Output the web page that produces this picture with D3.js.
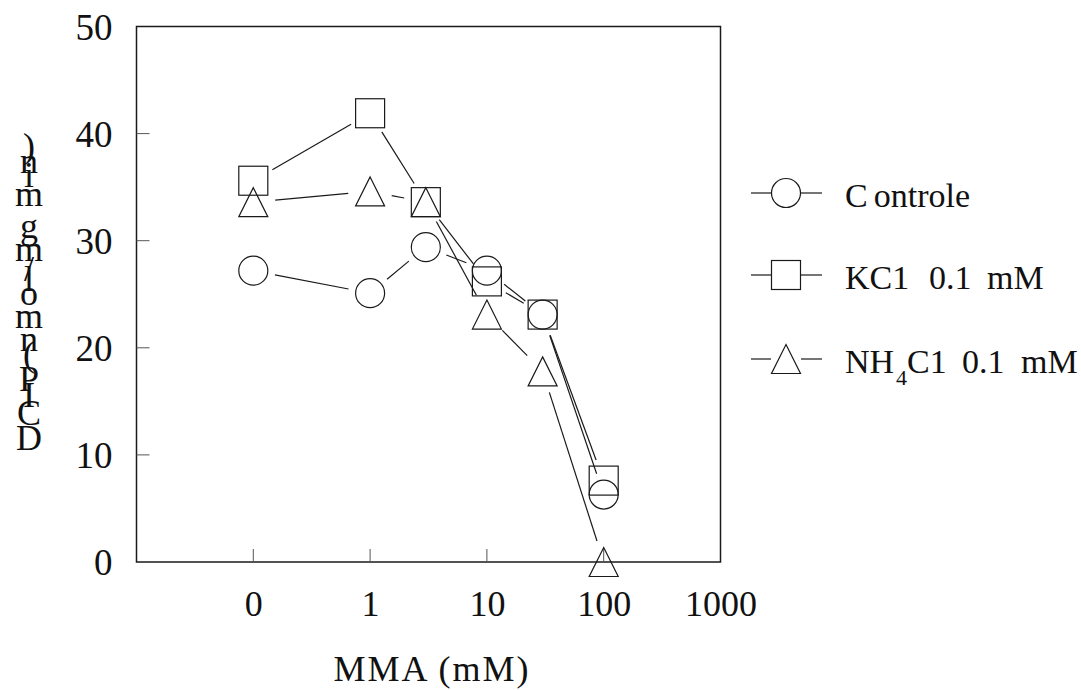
<!DOCTYPE html>
<html>
<head>
<meta charset="utf-8">
<script src="https://d3js.org/d3.v7.min.js"></script>
<style>
  body { margin: 0; background: #fff; }
  text { font-family: "Liberation Serif", "Times New Roman", serif; fill: #111; }
</style>
</head>
<body>
<div id="chart"></div>
<script>
// MMA concentration (mM); the "0" dose sits at the 0.1 position of the log axis
var mma = [0, 1, 3, 10, 30, 100];
var controle = [27.2, 25.1, 29.4, 27.2, 23.1, 6.3];
var kcl = [35.6, 41.9, 33.6, 26.2, 23.1, 7.6];
var nh4cl = [33.6, 34.6, 33.6, 23.1, 17.8, 0.0];
var xTickValues = [0.1, 1, 10, 100, 1000];
var xTickLabels = ["0", "1", "10", "100", "1000"];
var yTickValues = [0, 10, 20, 30, 40, 50];
var yLabel = "DCIP (nmol/mg min)";

var W = 1081, H = 690;
var svg = d3.select("#chart").append("svg").attr("width", W).attr("height", H);

var x = d3.scaleLog().domain([0.01, 1000]).range([136.5, 720.5]);
var y = d3.scaleLinear().domain([0, 50]).range([562, 26.5]);
var xv = function(v) { return x(v === 0 ? 0.1 : v); };

var ink = "#1a1a1a";

// frame
svg.append("rect")
    .attr("x", x.range()[0]).attr("y", y(50))
    .attr("width", x.range()[1] - x.range()[0]).attr("height", y(0) - y(50))
    .attr("fill", "none").attr("stroke", ink).attr("stroke-width", 1.5);

// y axis
var yAxis = d3.axisLeft(y).tickValues(yTickValues).tickSize(0).tickPadding(24);
var gy = svg.append("g").attr("transform", "translate(" + x.range()[0] + ",0)").call(yAxis);
gy.select(".domain").remove();
gy.selectAll("text").style("font-size", "37px").attr("dy", "0.34em");
svg.selectAll(".ytick").data(yTickValues.slice(1, -1)).enter().append("line")
    .attr("x1", x.range()[0]).attr("x2", x.range()[0] + 13)
    .attr("y1", function(d) { return y(d); }).attr("y2", function(d) { return y(d); })
    .attr("stroke", "#555").attr("stroke-width", 1);

// x axis
var xAxis = d3.axisBottom(x).tickValues(xTickValues)
    .tickFormat(function(d, i) { return xTickLabels[i]; })
    .tickSize(0).tickPadding(28);
var gx = svg.append("g").attr("transform", "translate(0," + y(0) + ")").call(xAxis);
gx.select(".domain").remove();
gx.selectAll("text").style("font-size", "36px");
svg.selectAll(".xtick").data(xTickValues.slice(0, -1)).enter().append("line")
    .attr("x1", function(d) { return x(d); }).attr("x2", function(d) { return x(d); })
    .attr("y1", y(0)).attr("y2", y(0) - 13)
    .attr("stroke", "#555").attr("stroke-width", 1);

// axis titles
svg.append("text").attr("x", 432).attr("y", 681)
    .attr("text-anchor", "middle").style("font-size", "36px").style("letter-spacing", "2px")
    .text("MMA (mM)");

// y title: upright glyphs stacked bottom to top with their advance widths
var yl = svg.append("g");
var chars = yLabel.split("");
var widths = chars.map(function(c) {
  var t = yl.append("text").style("font-size", "36px").style("white-space", "pre").text(c);
  var w = t.node().getComputedTextLength();
  t.remove();
  return w;
});
var cursor = 437 + widths[0] / 2;
chars.forEach(function(c, i) {
  var cy = cursor - widths[i] / 2;
  cursor -= widths[i];
  if (c === " ") return;
  yl.append("text").attr("x", 29).attr("y", cy).attr("dy", "0.35em")
    .attr("text-anchor", "middle").style("font-size", "36px").text(c);
});

// markers
var S = 29;
function drawMarker(g, shape, cx, cy) {
  if (shape === "circle") {
    g.append("circle").attr("cx", cx).attr("cy", cy).attr("r", S / 2);
  } else if (shape === "square") {
    g.append("rect").attr("x", cx - S / 2).attr("y", cy - S / 2).attr("width", S).attr("height", S);
  } else {
    g.append("path").attr("d", "M" + cx + "," + (cy - S / 2) + "L" + (cx + S / 2) + "," + (cy + S / 2) +
      "L" + (cx - S / 2) + "," + (cy + S / 2) + "Z");
  }
}

var series = [
  { name: "Controle", values: controle, shape: "circle" },
  { name: "KC1 0.1 mM", values: kcl, shape: "square" },
  { name: "NH4C1 0.1 mM", values: nh4cl, shape: "triangle" }
];

var gap = 22;
series.forEach(function(s) {
  var g = svg.append("g").attr("fill", "none").attr("stroke", ink).attr("stroke-width", 1.2);
  var pts = mma.map(function(m, i) { return [xv(m), y(s.values[i])]; });
  for (var i = 0; i < pts.length - 1; i++) {
    var a = pts[i], b = pts[i + 1];
    var dx = b[0] - a[0], dy = b[1] - a[1], len = Math.sqrt(dx * dx + dy * dy);
    if (len <= 2 * gap) continue;
    var ux = dx / len, uy = dy / len;
    g.append("line")
      .attr("x1", a[0] + ux * gap).attr("y1", a[1] + uy * gap)
      .attr("x2", b[0] - ux * gap).attr("y2", b[1] - uy * gap);
  }
  pts.forEach(function(p) { drawMarker(g, s.shape, p[0], p[1]); });
});

// legend
var legendY = [193, 275, 359];
series.forEach(function(s, i) {
  var ly = legendY[i];
  var g = svg.append("g").attr("fill", "none").attr("stroke", ink).attr("stroke-width", 1.2);
  g.append("line").attr("x1", 751).attr("x2", 771).attr("y1", ly).attr("y2", ly);
  g.append("line").attr("x1", 801).attr("x2", 822).attr("y1", ly).attr("y2", ly);
  drawMarker(g, s.shape, 786, ly);
  var t = svg.append("text").attr("x", 845).attr("y", ly + 14)
    .style("font-size", "34px");
  if (i === 0) {
    t.append("tspan").text("C");
    t.append("tspan").attr("dx", 6).text("ontrole");
  } else if (i === 1) {
    t.append("tspan").text("KC1");
    t.append("tspan").attr("x", 929).text("0.1");
    t.append("tspan").attr("x", 987).text("mM");
  } else {
    t.append("tspan").text("NH");
    t.append("tspan").attr("x", 896).attr("dy", 12).style("font-size", "22px").text("4");
    t.append("tspan").attr("x", 907).attr("dy", -12).text("C1");
    t.append("tspan").attr("x", 962).text("0.1");
    t.append("tspan").attr("x", 1021).text("mM");
  }
});
</script>
</body>
</html>
